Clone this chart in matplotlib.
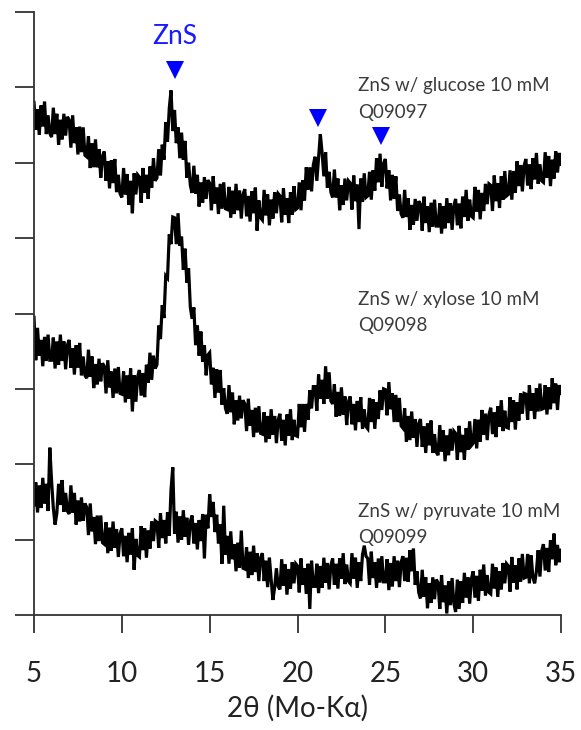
import numpy as np
import matplotlib
matplotlib.use("Agg")
import matplotlib.pyplot as plt

# 2-theta grid: 5.0 .. 35.0 in 0.1 steps
two_theta_start = 5.0
two_theta_step = 0.1

glucose = [
    6.80, 6.44, 6.71, 6.37, 6.76, 6.48, 6.81, 6.38, 6.63, 6.39,
    6.34, 6.73, 6.38, 6.65, 6.24, 6.57, 6.31, 6.65, 6.36, 6.61,
    6.57, 6.20, 6.63, 6.26, 6.47, 6.11, 6.48, 6.14, 6.47, 6.10,
    6.08, 6.35, 5.93, 6.26, 5.94, 6.31, 5.94, 6.18, 5.80, 6.09,
    6.15, 5.76, 6.02, 5.66, 6.03, 5.73, 6.05, 5.61, 5.84, 5.59,
    5.54, 5.93, 5.58, 5.85, 5.44, 5.76, 5.33, 5.86, 5.58, 5.84,
    5.81, 5.47, 5.93, 5.60, 5.84, 5.52, 5.95, 5.67, 6.06, 5.76,
    5.80, 6.18, 5.83, 6.24, 6.04, 6.54, 6.28, 6.72, 6.96, 6.42,
    6.70, 6.26, 6.47, 6.06, 6.40, 6.04, 6.29, 5.80, 6.00, 5.70,
    5.60, 5.96, 5.59, 5.84, 5.42, 5.74, 5.47, 5.81, 5.52, 5.77,
    5.73, 5.37, 5.82, 5.46, 5.67, 5.32, 5.72, 5.39, 5.74, 5.39,
    5.38, 5.68, 5.27, 5.63, 5.32, 5.72, 5.37, 5.63, 5.26, 5.58,
    5.65, 5.29, 5.56, 5.22, 5.62, 5.33, 5.67, 5.10, 5.50, 5.27,
    5.24, 5.64, 5.30, 5.58, 5.17, 5.51, 5.26, 5.61, 5.33, 5.59,
    5.56, 5.21, 5.66, 5.31, 5.53, 5.20, 5.61, 5.31, 5.69, 5.38,
    5.40, 5.74, 5.37, 5.77, 5.50, 5.94, 5.64, 5.94, 5.62, 5.97,
    6.08, 5.76, 6.08, 6.38, 6.13, 5.82, 6.14, 5.67, 5.88, 5.61,
    5.54, 5.91, 5.54, 5.79, 5.37, 5.70, 5.44, 5.79, 5.50, 5.76,
    5.73, 5.38, 5.83, 5.49, 5.71, 5.12, 5.79, 5.48, 5.86, 5.54,
    5.56, 5.88, 5.51, 5.90, 5.63, 6.06, 5.74, 6.12, 5.68, 5.99,
    6.05, 5.66, 5.90, 5.50, 5.84, 5.52, 5.82, 5.36, 5.58, 5.32,
    5.27, 5.64, 5.28, 5.53, 5.11, 5.44, 5.18, 5.52, 5.23, 5.49,
    5.45, 5.10, 5.55, 5.20, 5.42, 5.08, 5.47, 5.15, 5.51, 5.16,
    5.16, 5.46, 5.06, 5.42, 5.13, 5.53, 5.20, 5.46, 5.11, 5.43,
    5.52, 5.17, 5.46, 5.13, 5.55, 5.28, 5.64, 5.23, 5.51, 5.29,
    5.27, 5.68, 5.35, 5.64, 5.25, 5.60, 5.36, 5.72, 5.45, 5.72,
    5.70, 5.36, 5.83, 5.49, 5.73, 5.40, 5.82, 5.51, 5.89, 5.56,
    5.58, 5.90, 5.51, 5.89, 5.60, 6.02, 5.69, 5.97, 5.62, 5.96,
    6.05, 5.70, 5.98, 5.65, 6.06, 5.78, 6.13, 5.72, 5.98, 5.76,
    5.74, 6.14, 5.80, 6.09, 5.69, 6.04, 5.79, 6.15, 5.87, 6.13,
    5.98,
]

xylose = [
    3.95, 3.38, 3.81, 3.44, 3.65, 3.30, 3.69, 3.37, 3.72, 3.38,
    3.38, 3.68, 3.27, 3.63, 3.32, 3.72, 3.37, 3.63, 3.26, 3.58,
    3.65, 3.28, 3.54, 3.19, 3.58, 3.28, 3.61, 3.18, 3.43, 3.18,
    3.14, 3.52, 3.16, 3.43, 3.01, 3.33, 3.06, 3.40, 3.10, 3.34,
    3.30, 2.94, 3.38, 3.02, 3.23, 2.88, 3.27, 2.94, 3.29, 2.94,
    2.93, 3.23, 2.82, 3.18, 2.87, 3.27, 2.70, 3.18, 2.83, 3.16,
    3.25, 2.91, 3.21, 2.89, 3.32, 3.08, 3.48, 3.12, 3.44, 3.27,
    3.32, 3.84, 3.66, 4.11, 3.94, 4.50, 4.47, 5.05, 4.92, 5.28,
    5.27, 4.92, 5.33, 4.90, 5.02, 4.58, 4.86, 4.41, 4.60, 4.08,
    3.93, 4.08, 3.58, 3.84, 3.44, 3.76, 3.36, 3.58, 3.18, 3.45,
    3.48, 3.06, 3.28, 2.88, 3.26, 2.95, 3.25, 2.79, 3.01, 2.74,
    2.67, 3.05, 2.69, 2.95, 2.53, 2.85, 2.58, 2.91, 2.61, 2.85,
    2.80, 2.44, 2.87, 2.51, 2.72, 2.36, 2.75, 2.42, 2.77, 2.41,
    2.40, 2.69, 2.29, 2.64, 2.34, 2.73, 2.39, 2.64, 2.28, 2.59,
    2.67, 2.31, 2.59, 2.25, 2.66, 2.38, 2.73, 2.32, 2.59, 2.38,
    2.37, 2.80, 2.49, 2.80, 2.43, 2.80, 2.59, 2.98, 2.74, 3.03,
    3.03, 2.71, 3.19, 2.87, 3.12, 2.80, 3.30, 2.87, 3.22, 2.84,
    2.80, 3.06, 2.63, 2.96, 2.64, 3.02, 2.66, 2.90, 2.52, 2.83,
    2.90, 2.53, 2.80, 2.45, 2.84, 2.56, 2.89, 2.47, 2.73, 2.50,
    2.47, 2.88, 2.56, 2.86, 2.47, 2.82, 2.60, 2.98, 2.72, 3.00,
    2.99, 2.65, 3.09, 2.73, 2.94, 2.56, 2.92, 2.56, 2.88, 2.51,
    2.48, 2.74, 2.30, 2.64, 2.32, 2.70, 2.35, 2.60, 2.23, 2.54,
    2.60, 2.23, 2.50, 2.15, 2.54, 2.25, 2.58, 2.15, 2.40, 2.16,
    2.12, 2.52, 2.17, 2.45, 2.04, 2.38, 2.12, 2.47, 2.18, 2.44,
    2.41, 2.06, 2.51, 2.16, 2.39, 2.06, 2.48, 2.19, 2.57, 2.25,
    2.28, 2.60, 2.21, 2.59, 2.30, 2.72, 2.39, 2.67, 2.32, 2.66,
    2.75, 2.40, 2.69, 2.36, 2.77, 2.50, 2.85, 2.44, 2.71, 2.49,
    2.48, 2.89, 2.56, 2.85, 2.46, 2.82, 2.58, 2.94, 2.67, 2.94,
    2.93, 2.59, 3.05, 2.71, 2.94, 2.60, 3.01, 2.70, 3.07, 2.73,
    2.74, 3.05, 2.66, 3.02, 2.73, 3.14, 2.81, 3.07, 2.72, 3.05,
    2.94,
]

pyruvate = [
    1.46, 1.76, 1.36, 1.72, 1.42, 1.82, 1.48, 1.74, 1.38, 2.22,
    1.78, 1.42, 1.20, 1.35, 1.74, 1.46, 1.79, 1.37, 1.62, 1.38,
    1.34, 1.72, 1.36, 1.62, 1.20, 1.52, 1.24, 1.56, 1.25, 1.48,
    1.43, 1.06, 1.48, 1.11, 1.30, 0.94, 1.32, 0.98, 1.32, 0.96,
    0.94, 1.23, 0.82, 1.16, 0.85, 1.24, 0.89, 1.14, 0.77, 1.08,
    1.15, 0.78, 1.05, 0.70, 1.09, 0.80, 1.15, 0.60, 1.01, 0.79,
    0.77, 1.18, 0.86, 1.15, 0.76, 1.12, 0.88, 1.24, 0.98, 1.25,
    1.23, 0.89, 1.35, 1.02, 1.26, 0.95, 1.36, 1.05, 1.66, 1.96,
    1.08, 1.37, 0.96, 1.31, 1.00, 1.39, 1.04, 1.29, 0.93, 1.24,
    1.32, 0.95, 1.22, 0.87, 1.26, 0.98, 1.34, 0.75, 1.33, 1.15,
    1.60, 1.30, 1.50, 1.10, 1.33, 0.95, 1.20, 0.68, 1.45, 0.80,
    1.05, 0.68, 1.11, 0.74, 0.94, 0.58, 0.96, 0.63, 1.12, 0.62,
    0.61, 0.90, 0.49, 0.84, 0.53, 0.92, 0.57, 0.82, 0.45, 0.76,
    0.82, 0.45, 0.72, 0.37, 0.76, 0.47, 0.20, 0.37, 0.62, 0.38,
    0.34, 0.74, 0.39, 0.67, 0.27, 0.61, 0.35, 0.70, 0.42, 0.68,
    0.65, 0.30, 0.75, 0.40, 0.62, 0.28, 0.68, 0.08, 0.72, 0.38,
    0.38, 0.68, 0.29, 0.65, 0.36, 0.76, 0.43, 0.69, 0.34, 0.66,
    0.75, 0.40, 0.68, 0.35, 0.75, 0.48, 0.82, 0.41, 0.67, 0.45,
    0.42, 0.82, 0.48, 0.76, 0.36, 0.70, 0.45, 0.80, 0.92, 0.78,
    0.75, 0.40, 0.84, 0.49, 0.70, 0.36, 0.75, 0.43, 0.78, 0.44,
    0.44, 0.74, 0.33, 0.69, 0.38, 0.78, 0.45, 0.72, 0.37, 0.70,
    0.78, 0.45, 0.76, 0.44, 0.86, 0.58, 0.88, 0.40, 0.58, 0.30,
    0.22, 0.60, 0.24, 0.50, 0.09, 0.42, 0.16, 0.50, 0.21, 0.47,
    0.43, 0.08, 0.53, 0.17, 0.39, 0.02, 0.45, 0.13, 0.49, 0.16,
    0.04, 0.47, 0.08, 0.45, 0.16, 0.56, 0.23, 0.50, 0.15, 0.48,
    0.58, 0.23, 0.52, 0.19, 0.60, 0.32, 0.67, 0.26, 0.53, 0.30,
    0.28, 0.68, 0.35, 0.63, 0.24, 0.58, 0.34, 0.69, 0.42, 0.68,
    0.65, 0.31, 0.77, 0.43, 0.66, 0.34, 0.75, 0.44, 0.81, 0.49,
    0.50, 0.81, 0.42, 0.79, 0.50, 0.42, 0.58, 0.86, 0.51, 0.85,
    0.94, 0.59, 0.89, 0.57, 0.99, 0.74, 1.08, 0.66, 0.93, 0.70,
    0.86,
]

sample_labels = [
    ["ZnS w/ glucose 10 mM", "Q09097"],
    ["ZnS w/ xylose 10 mM", "Q09098"],
    ["ZnS w/ pyruvate 10 mM", "Q09099"],
]
label_x = 23.45
label_y = [(6.95, 6.59), (4.11, 3.77), (1.30, 0.95)]

peak_x = [13.0, 21.15, 24.75]
peak_y = [7.23, 6.60, 6.36]
phase_name = "ZnS"

x_ticks = [5, 10, 15, 20, 25, 30, 35]
y_ticks = [0, 1, 2, 3, 4, 5, 6, 7, 8]
x_label = "2θ (Mo-Kα)"

FONT = ["Lato", "Open Sans", "DejaVu Sans"]
plt.rcParams["font.family"] = FONT

fig = plt.figure(figsize=(5.81, 7.30), dpi=100)
ax = fig.add_axes([34 / 581, 1 - 615 / 730, (561 - 34) / 581, (615 - 12) / 730])

n = len(glucose)
two_theta = two_theta_start + two_theta_step * np.arange(n)

for series in (glucose, xylose, pyruvate):
    ax.plot(two_theta, series, color="black", lw=2.3, solid_joinstyle="miter")

ax.plot(peak_x, peak_y, linestyle="none", marker="v", markersize=13,
        color="#0000ff", markeredgewidth=0)
ax.text(peak_x[0], 7.57, phase_name, color="#1a1aff", fontsize=19,
        ha="center", va="baseline")

for (l1, l2), (y1, y2) in zip(sample_labels, label_y):
    ax.text(label_x, y1, l1, fontsize=13.5, color="#3c3c3c", ha="left", va="baseline")
    ax.text(label_x, y2, l2, fontsize=13.5, color="#3c3c3c", ha="left", va="baseline")

ax.set_xlim(5, 35)
ax.set_ylim(0, 8)
ax.set_xticks(x_ticks)
ax.set_yticks(y_ticks)
ax.set_yticklabels([])
ax.spines["top"].set_visible(False)
ax.spines["right"].set_visible(False)
for s in ("left", "bottom"):
    ax.spines[s].set_color("#333333")
    ax.spines[s].set_linewidth(1.3)
ax.tick_params(axis="x", direction="out", length=13, width=1.3, color="#333333",
               labelsize=20, pad=20, labelcolor="#222222")
ax.tick_params(axis="y", direction="out", length=14, width=1.3, color="#333333")
ax.set_xlabel(x_label, fontsize=20, color="#222222", labelpad=6)

fig.savefig("out.png", dpi=100)
